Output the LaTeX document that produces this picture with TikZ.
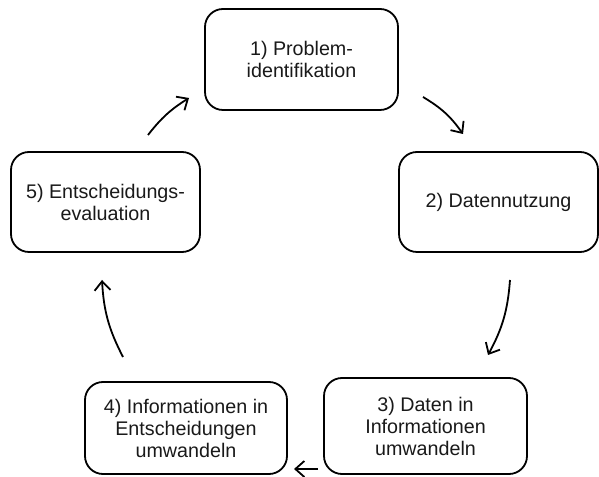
\documentclass[tikz,border=0pt]{standalone}
\usepackage{fontspec}
\setmainfont{Liberation Sans}
\usepackage{tikz}
\usetikzlibrary{arrows.meta,positioning}
\tikzstyle{phase} = [rectangle, draw=black, line width=1.8pt, rounded corners=18pt, align=center, text=black!90, font=\fontsize{19.7}{22}\selectfont, inner sep=0pt]
\tikzstyle{cedge} = [draw, line width=1.8pt, -{Straight Barb[length=9pt,width=16pt]}]

\begin{document}
\begin{tikzpicture}[x=1pt,y=1pt]
\useasboundingbox (0,0) rectangle (599,476);

% phases =============================
\node[phase, minimum width=193pt, minimum height=101pt] (ident) at (301.5,416.5) {1) Problem-\\identifikation};
\node[phase, minimum width=199pt, minimum height=100pt] (nutz) at (498.5,274) {2) Datennutzung};
\node[phase, minimum width=203pt, minimum height=96pt] (info) at (425.5,50) {3) Daten in\\Informationen\\umwandeln};
\node[phase, minimum width=202pt, minimum height=92pt] (entsch) at (186,48) {4) Informationen in\\Entscheidungen\\umwandeln};
\node[phase, minimum width=189pt, minimum height=100pt] (eval) at (105.5,274) {5) Entscheidungs-\\evaluation};

% arrow ends
\coordinate (c12a) at (423,379);
\coordinate (c12b) at (463,342);
\coordinate (c23a) at (510,196);
\coordinate (c23b) at (488,121);
\coordinate (c34a) at (318,7);
\coordinate (c34b) at (294,7);
\coordinate (c45a) at (123,119);
\coordinate (c45b) at (102,196);
\coordinate (c51a) at (148,341);
\coordinate (c51b) at (189,378);

% edges
\path[cedge] (c12a) to [bend left=12] (c12b);
\path[cedge] (c23a) to [bend left=12] (c23b);
\path[cedge] (c34a) -- (c34b);
\path[cedge] (c45a) to [bend left=12] (c45b);
\path[cedge] (c51a) to [bend left=10] (c51b);

\end{tikzpicture}
\end{document}
